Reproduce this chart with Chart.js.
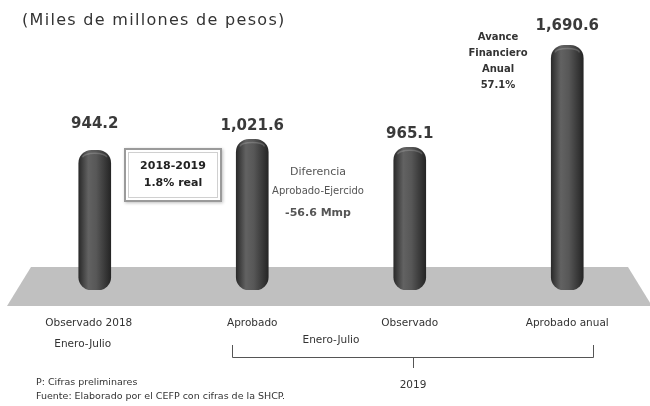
<!DOCTYPE html>
<html>
<head>
<meta charset="utf-8">
<script src="https://cdn.jsdelivr.net/npm/chart.js@4"></script>
<style>
  html, body { margin: 0; padding: 0; background: #fff; }
  #wrap { width: 650px; height: 406px; position: relative; }
</style>
</head>
<body>
<div id="wrap"><canvas id="chart"></canvas></div>
<script>
// data
const categories = ['Observado 2018', 'Aprobado', 'Observado', 'Aprobado anual'];
const subLabels = ['Enero-Julio', '', '', ''];
const values = [944.2, 1021.6, 965.1, 1690.6];
const valueLabels = ['944.2', '1,021.6', '965.1', '1,690.6'];
const titleText = '(Miles de millones de pesos)';
const boxLines = ['2018-2019', '1.8% real'];
const diffLines = ['Diferencia', 'Aprobado-Ejercido', '-56.6 Mmp'];
const avanceLines = ['Avance', 'Financiero', 'Anual', '57.1%'];
const groupLabel = 'Enero-Julio';
const yearLabel = '2019';
const notes = ['P: Cifras preliminares', 'Fuente: Elaborado por el CEFP con cifras de la SHCP.'];

const FONT = '"DejaVu Sans", "Noto Sans", sans-serif';

// cylinder shading, one gradient per bar
function cylinderFill(ctx) {
  const chart = ctx.chart;
  if (!chart.chartArea) return '#444';
  const x = chart.scales.x.getPixelForValue(ctx.dataIndex);
  const g = chart.ctx.createLinearGradient(x - 16, 0, x + 16, 0);
  g.addColorStop(0, '#2a2a2a');
  g.addColorStop(0.3, '#626262');
  g.addColorStop(0.55, '#575757');
  g.addColorStop(1, '#252525');
  return g;
}

function text(c, str, x, y, font, color, align) {
  c.font = font;
  c.fillStyle = color;
  c.textAlign = align || 'center';
  c.textBaseline = 'middle';
  c.fillText(str, x, y);
}

const scenePlugin = {
  id: 'scene',
  beforeDatasetsDraw(chart) {
    const c = chart.ctx;
    // grey floor
    c.save();
    c.fillStyle = '#c0c0c0';
    c.beginPath();
    c.moveTo(31, 267);
    c.lineTo(628, 267);
    c.lineTo(652, 306);
    c.lineTo(7, 306);
    c.closePath();
    c.fill();
    c.restore();
  },
  afterDatasetsDraw(chart) {
    const c = chart.ctx;
    const meta = chart.getDatasetMeta(0);
    const labelOffsets = [26, 13, 13, 19];
    c.save();
    meta.data.forEach((bar, i) => {
      // top cap highlight
      c.strokeStyle = 'rgba(255,255,255,0.18)';
      c.lineWidth = 1.5;
      c.beginPath();
      c.ellipse(bar.x, bar.y + 7, 12, 4, 0, Math.PI, 2 * Math.PI);
      c.stroke();
      text(c, valueLabels[i], bar.x, bar.y - labelOffsets[i], 'bold 15px ' + FONT, '#3a3a3a');
    });

    // title
    c.letterSpacing = '1.3px';
    text(c, titleText, 22, 21, '16px ' + FONT, '#333', 'left');
    c.letterSpacing = '0px';

    // category labels
    categories.forEach((lab, i) => {
      const x = chart.scales.x.getPixelForValue(i);
      text(c, lab, x - (i === 0 ? 6 : 0), 323, '10.5px ' + FONT, '#333');
      if (subLabels[i]) text(c, subLabels[i], x - 12, 344, '10.5px ' + FONT, '#333');
    });

    // 2018-2019 box
    c.shadowColor = 'rgba(0,0,0,0.25)';
    c.shadowBlur = 3;
    c.shadowOffsetX = 1;
    c.shadowOffsetY = 1;
    c.fillStyle = '#fff';
    c.fillRect(124, 148, 98, 54);
    c.shadowColor = 'transparent';
    c.strokeStyle = '#9a9a9a';
    c.lineWidth = 2;
    c.strokeRect(125, 149, 96, 52);
    c.strokeStyle = '#d0d0d0';
    c.lineWidth = 1;
    c.strokeRect(128.5, 152.5, 89, 45);
    text(c, boxLines[0], 173, 166, 'bold 11px ' + FONT, '#222');
    text(c, boxLines[1], 173, 183, 'bold 11px ' + FONT, '#222');

    // Diferencia note
    text(c, diffLines[0], 318, 172, '11px ' + FONT, '#555');
    text(c, diffLines[1], 318, 191, '10px ' + FONT, '#555');
    text(c, diffLines[2], 318, 213, 'bold 11px ' + FONT, '#555');

    // Avance note
    avanceLines.forEach((l, i) => text(c, l, 498, 37 + i * 16, 'bold 10px ' + FONT, '#333'));

    // bracket for 2019 Enero-Julio
    text(c, groupLabel, 331, 340, '10.5px ' + FONT, '#333');
    c.strokeStyle = '#555';
    c.lineWidth = 1;
    c.beginPath();
    c.moveTo(232.5, 345);
    c.lineTo(232.5, 357.5);
    c.lineTo(593.5, 357.5);
    c.lineTo(593.5, 345);
    c.moveTo(413.5, 357.5);
    c.lineTo(413.5, 368);
    c.stroke();
    text(c, yearLabel, 413, 385, '10.5px ' + FONT, '#333');

    // footnotes
    text(c, notes[0], 36, 383, '9.5px ' + FONT, '#333', 'left');
    text(c, notes[1], 36, 397, '9.5px ' + FONT, '#333', 'left');
    c.restore();
  }
};

new Chart(document.getElementById('chart'), {
  type: 'bar',
  data: {
    labels: categories,
    datasets: [{
      data: values,
      base: -50,
      backgroundColor: cylinderFill,
      borderWidth: 0,
      borderRadius: 13,
      borderSkipped: false,
      barThickness: 32
    }]
  },
  options: {
    responsive: true,
    maintainAspectRatio: false,
    animation: false,
    layout: { padding: { left: 16, right: 4, top: 30, bottom: 116 } },
    scales: {
      x: { display: false },
      y: { display: false, min: -50, max: 1800 }
    },
    plugins: {
      legend: { display: false },
      tooltip: { enabled: false }
    }
  },
  plugins: [scenePlugin]
});
</script>
</body>
</html>
